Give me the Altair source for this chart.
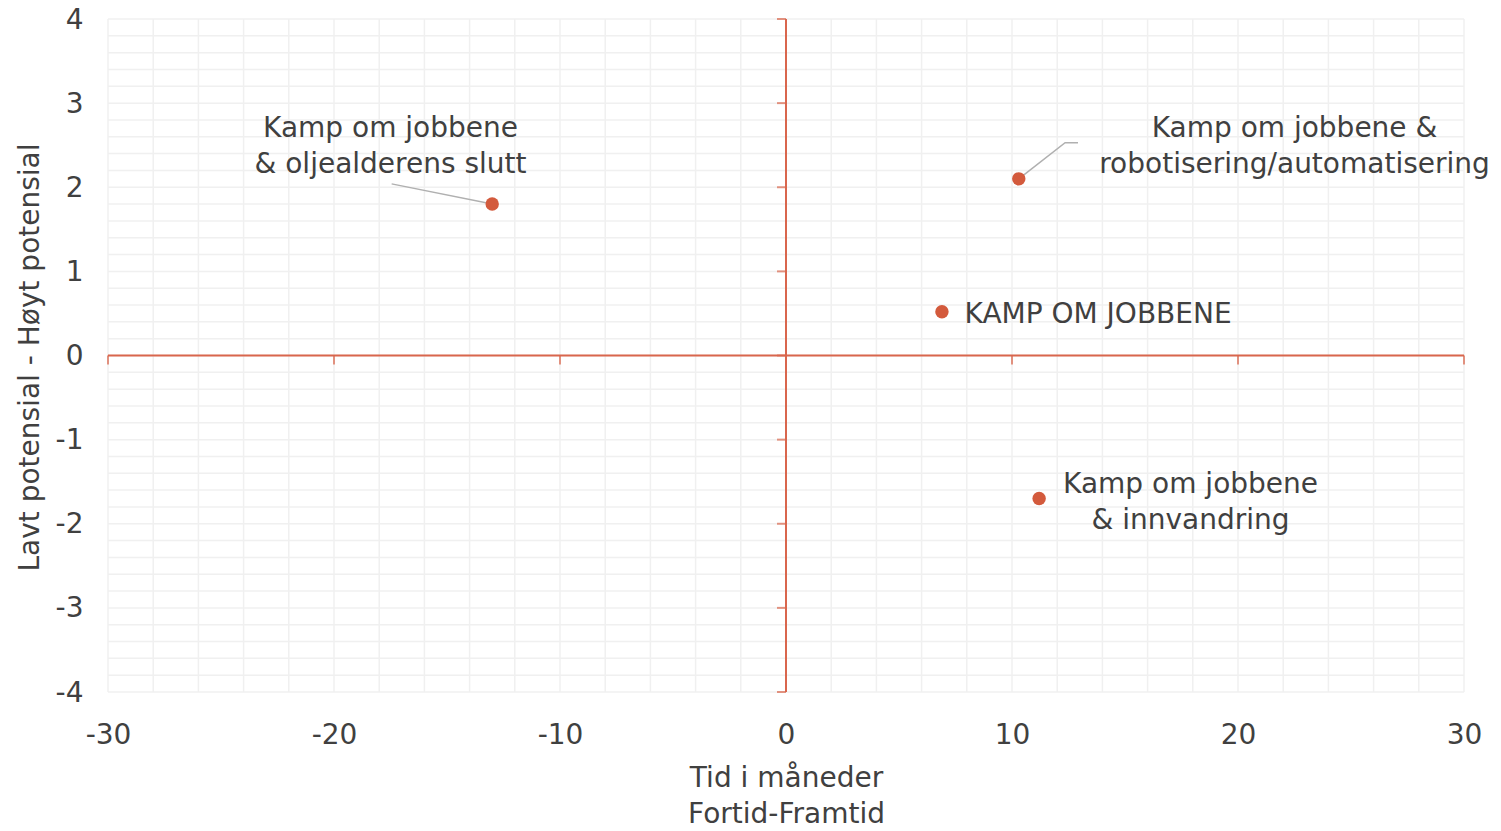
import altair as alt
import pandas as pd

# data
labels = ["Kamp om jobbene\n& oljealderens slutt",
          "Kamp om jobbene &\nrobotisering/automatisering",
          "KAMP OM JOBBENE",
          "Kamp om jobbene\n& innvandring"]
px = [-13.0, 10.3, 6.9, 11.2]
py = [1.8, 2.1, 0.52, -1.7]

# label anchor positions (data units, first text line)
lx = [-17.5, 22.5, 7.9, 17.9]
ly = [2.72, 2.72, 0.51, -1.51]
lalign = ["center", "center", "left", "center"]

# connector lines (data units)
conn_id = [0, 0, 1, 1, 1]
conn_order = [0, 1, 0, 1, 2]
conn_x = [-17.45, -13.0, 10.3, 12.35, 12.92]
conn_y = [2.04, 1.8, 2.1, 2.53, 2.53]

x_grid = list(range(-30, 31, 2))
y_grid = [round(-4 + 0.2 * i, 1) for i in range(41)]
x_major = list(range(-30, 31, 10))
y_major = list(range(-4, 5, 1))

FONT = "DejaVu Sans"
TXT = "#404040"
RED = "#d35a3c"
AX = "#d9664d"
GRID = "#f0f0f0"
FS = 28

pts = pd.DataFrame({"x": px, "y": py})
lab = pd.DataFrame({"x": lx, "y": ly, "t": labels, "a": lalign})
conn = pd.DataFrame({"id": conn_id, "o": conn_order, "x": conn_x, "y": conn_y})

xs = alt.Scale(domain=[-30, 30], nice=False, zero=False)
ys = alt.Scale(domain=[-4, 4], nice=False, zero=False)

xaxis = alt.Axis(values=x_major, grid=False, domain=False, ticks=False, tickSize=0,
                 labelExpr="'' + datum.value", labelFlush=False, labelOverlap=False,
                 labelFont=FONT, labelFontSize=FS, labelColor=TXT,
                 labelBaseline="middle", labelPadding=43,
                 title=["Tid i måneder", "Fortid-Framtid"],
                 titleFont=FONT, titleFontSize=FS, titleFontWeight="normal",
                 titleColor=TXT, titleBaseline="middle", titleY=86,
                 titleLineHeight=36)
yaxis = alt.Axis(values=y_major, grid=False, domain=False, ticks=False, tickSize=0,
                 labelExpr="'' + datum.value", labelFlush=False, labelOverlap=False,
                 labelFont=FONT, labelFontSize=FS, labelColor=TXT,
                 labelPadding=25, labelOffset=1,
                 title="Lavt potensial - Høyt potensial",
                 titleFont=FONT, titleFontSize=FS, titleFontWeight="normal",
                 titleColor=TXT, titleAngle=-90, titleAlign="center",
                 titleBaseline="middle", titleX=-78, titleY=338)

base = alt.Chart(pts).mark_point(opacity=0).encode(
    x=alt.X("x:Q", scale=xs, axis=xaxis),
    y=alt.Y("y:Q", scale=ys, axis=yaxis),
)

vgrid = alt.Chart(pd.DataFrame({"v": x_grid})).mark_rule(color=GRID, strokeWidth=1.5).encode(
    x=alt.X("v:Q", scale=xs))
hgrid = alt.Chart(pd.DataFrame({"v": y_grid})).mark_rule(color=GRID, strokeWidth=1.5).encode(
    y=alt.Y("v:Q", scale=ys))

hline = alt.Chart(pd.DataFrame({"v": [0]})).mark_rule(color=AX, strokeWidth=2).encode(
    y=alt.Y("v:Q", scale=ys))
vline = alt.Chart(pd.DataFrame({"v": [0]})).mark_rule(color=AX, strokeWidth=2).encode(
    x=alt.X("v:Q", scale=xs))

xt = alt.Chart(pd.DataFrame({"x": x_major, "y": [0] * len(x_major)})).mark_tick(
    orient="vertical", size=9, thickness=2, color=AX, yOffset=4.5).encode(
    x=alt.X("x:Q", scale=xs), y=alt.Y("y:Q", scale=ys))
yt = alt.Chart(pd.DataFrame({"y": y_major, "x": [0] * len(y_major)})).mark_tick(
    orient="horizontal", size=9, thickness=2, color=AX, xOffset=-4.5).encode(
    x=alt.X("x:Q", scale=xs), y=alt.Y("y:Q", scale=ys))

lines = alt.Chart(conn).mark_line(color="#b0b0b0", strokeWidth=1.5).encode(
    x=alt.X("x:Q", scale=xs), y=alt.Y("y:Q", scale=ys),
    detail="id:N", order="o:Q")

dots = alt.Chart(pts).mark_circle(size=180, color=RED, opacity=1).encode(
    x=alt.X("x:Q", scale=xs), y=alt.Y("y:Q", scale=ys))

texts = []
for a in ["center", "left"]:
    sub = lab[lab["a"] == a]
    texts.append(alt.Chart(sub).mark_text(
        align=a, baseline="middle", font=FONT, fontSize=FS, color=TXT,
        lineBreak="\n", lineHeight=36, dy=2).encode(
        x=alt.X("x:Q", scale=xs), y=alt.Y("y:Q", scale=ys), text="t:N"))

chart = alt.layer(base, vgrid, hgrid, hline, vline, xt, yt, lines, dots, *texts).properties(
    width=1356, height=673,
    autosize=alt.AutoSizeParams(type="none"),
    padding={"left": 100, "top": 11, "right": 29, "bottom": 131},
).configure_view(stroke=None)

chart.save("out.html", embed_options={"renderer": "svg", "actions": False})
